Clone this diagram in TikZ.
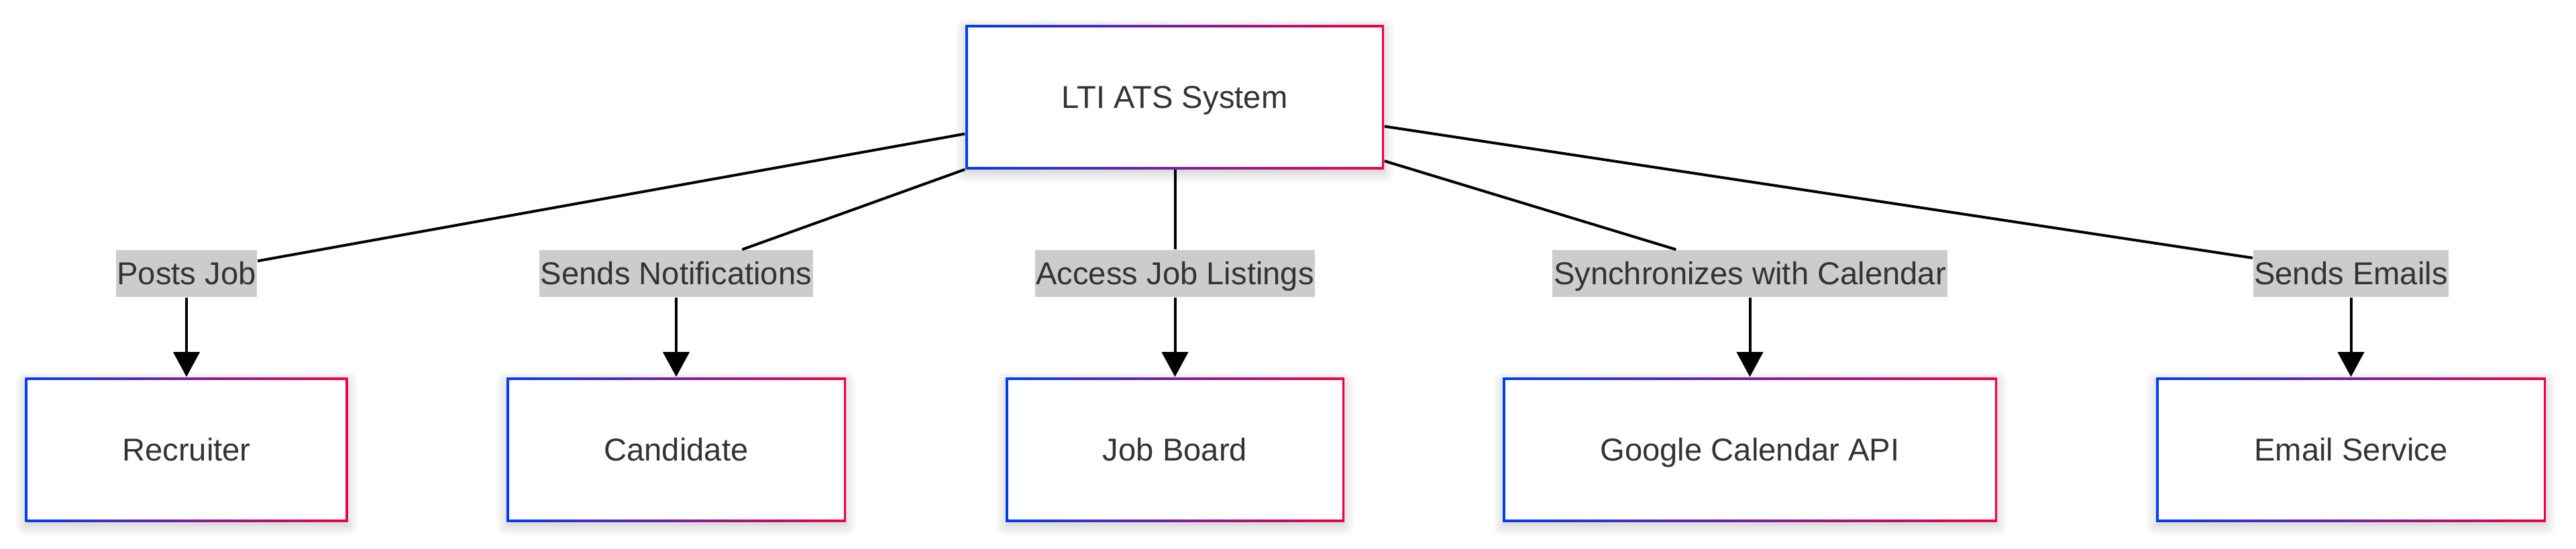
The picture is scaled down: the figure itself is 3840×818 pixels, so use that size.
\documentclass[tikz,border=0pt]{standalone}
\usepackage{fontspec}
\setmainfont{Liberation Sans}
\usetikzlibrary{arrows.meta,shadows.blur}
\definecolor{gblue}{RGB}{0,60,245}
\definecolor{gred}{RGB}{240,0,72}
\definecolor{txt}{RGB}{51,51,51}
\definecolor{lblbg}{RGB}{204,204,204}
\begin{document}
\begin{tikzpicture}[x=0.25pt,y=-0.25pt,
  gbox/.style={rectangle, minimum height=53.75pt, inner sep=0pt,
    left color=gblue, right color=gred, text=txt,
    font=\fontsize{11.8}{14}\selectfont, text height=10.5pt, text depth=2.1pt,
    blur shadow={shadow xshift=0pt, shadow yshift=-1.5pt, shadow blur radius=4pt, shadow opacity=22, shadow blur steps=12},
    path picture={\fill[white] ([shift={(0.875pt,0.875pt)}]path picture bounding box.south west) rectangle ([shift={(-0.875pt,-0.875pt)}]path picture bounding box.north east);}},
  lbl/.style={rectangle, fill=lblbg, text=txt, font=\fontsize{11.8}{14}\selectfont,
    text height=10.5pt, text depth=2.1pt,
    inner xsep=0.4pt, inner ysep=0pt, minimum height=17.5pt},
  conn/.style={line width=1pt, black},
  arr/.style={conn, -{Triangle[length=9.25pt,width=9.75pt]}}]
\useasboundingbox (0,0) rectangle (3840,818);

% main nodes
\node[gbox, minimum width=156pt] (top) at (1751,144.5) {LTI ATS System};
\node[gbox, minimum width=120.25pt] (rec) at (278,670.5) {Recruiter};
\node[gbox, minimum width=126.5pt] (cand) at (1008,670.5) {Candidate};
\node[gbox, minimum width=126.25pt] (job) at (1751.5,670.5) {Job Board};
\node[gbox, minimum width=184.25pt] (goog) at (2608.5,670.5) {Google Calendar API};
\node[gbox, minimum width=145.25pt] (mail) at (3504.5,670.5) {Email Service};

% edge labels
\node[lbl] (l1) at (278,408) {Posts Job};
\node[lbl] (l2) at (1008,408) {Sends Notifications};
\node[lbl] (l3) at (1751.5,408) {Access Job Listings};
\node[lbl] (l4) at (2608.5,408) {Synchronizes with Calendar};
\node[lbl] (l5) at (3504.5,408) {Sends Emails};

% connectors
\draw[conn] (top.190) -- (l1.10);
\draw[conn] (top.south west) -- (l2.20);
\draw[conn] (top.south -| l3.north) -- (l3.north);
\draw[conn] (top.-17) -- (l4.162);
\draw[conn] (top.-8.7) -- (l5.171);

\draw[arr] (l1.south) -- (rec.north);
\draw[arr] (l2.south) -- (cand.north);
\draw[arr] (l3.south) -- (job.north);
\draw[arr] (l4.south) -- (goog.north);
\draw[arr] (l5.south) -- (mail.north);
\end{tikzpicture}
\end{document}
